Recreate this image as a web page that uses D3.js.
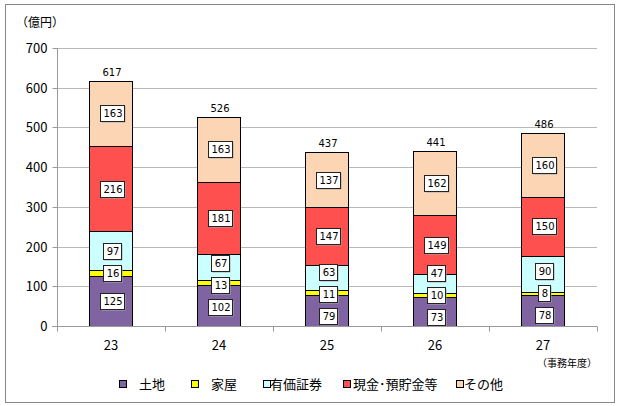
<!DOCTYPE html>
<html><head><meta charset="utf-8">
<script src="https://cdn.jsdelivr.net/npm/d3@7"></script>
<style>body{margin:0;background:#fff}svg{display:block}</style>
</head><body><svg id="c" width="618" height="406"></svg>
<script>
const categories = ["23","24","25","26","27"];
const seriesNames = ["土地","家屋","有価証券","現金･預貯金等","その他"];
const land = [125,102,79,73,78];
const house = [16,13,11,10,8];
const securities = [97,67,63,47,90];
const cash = [216,181,147,149,150];
const other = [163,163,137,162,160];
const totals = [617,526,437,441,486];
const yTicks = [0,100,200,300,400,500,600,700];
const colors = ["#8064A2","#FFFF00","#CCFFFF","#FF5050","#FCD5B5"];

const svg = d3.select("#c");
const font = "'Noto Sans CJK JP',sans-serif";
const numFont = "'DejaVu Sans',sans-serif";
svg.append("rect").attr("x",5.5).attr("y",4.5).attr("width",609).attr("height",398)
  .attr("fill","#fff").attr("stroke","#888").attr("stroke-width",1);

const x = d3.scaleBand().domain(categories).range([57,597]).paddingInner(0.6).paddingOuter(0.3);
const y = d3.scaleLinear().domain([0,700]).range([326,48]);

// grid
svg.append("g").selectAll("line").data(yTicks.slice(1)).join("line")
  .attr("x1",57).attr("x2",597).attr("y1",d=>Math.round(y(d))+0.5).attr("y2",d=>Math.round(y(d))+0.5)
  .attr("stroke","#b8b8b8");

const table = categories.map((c,i)=>({cat:c,s0:land[i],s1:house[i],s2:securities[i],s3:cash[i],s4:other[i]}));
const stack = d3.stack().keys(["s0","s1","s2","s3","s4"])(table);

const g = svg.append("g");
stack.forEach((layer,k)=>{
  g.append("g").selectAll("rect").data(layer).join("rect")
   .attr("x",d=>Math.round(x(d.data.cat))+0.5)
   .attr("width",Math.round(x.bandwidth()))
   .attr("y",d=>Math.round(y(d[1]))+0.5)
   .attr("height",d=>Math.round(y(d[0]))-Math.round(y(d[1])))
   .attr("fill",colors[k]).attr("stroke","#000").attr("stroke-width",1);
});

// axes
const yAxis = d3.axisLeft(y).tickValues(yTicks).tickSize(5).tickFormat(d3.format("d"));
const ya = svg.append("g").attr("transform","translate(57.5,0)").call(yAxis);
ya.select(".domain").attr("stroke","#999").attr("d","M0,48V326");
ya.selectAll(".tick line").attr("stroke","#999");
ya.selectAll(".tick").attr("transform",d=>`translate(0,${Math.round(y(d))+0.5})`);
ya.selectAll("text").attr("font-family",font).attr("font-size",13).attr("fill","#000").attr("x",-10);

const xa = svg.append("g").attr("transform","translate(0,326.5)");
xa.append("line").attr("x1",52).attr("x2",597).attr("stroke","#999");
const bounds = categories.map((c,i)=>x(c)+x.bandwidth()/2+x.step()/2);
xa.selectAll(".tk").data([57].concat(bounds)).join("line").attr("class","tk")
  .attr("x1",d=>Math.round(d)+0.5).attr("x2",d=>Math.round(d)+0.5).attr("y1",0).attr("y2",5).attr("stroke","#999");
xa.selectAll("text").data(categories).join("text")
  .attr("x",d=>x(d)+x.bandwidth()/2).attr("y",23).attr("text-anchor","middle")
  .attr("font-family",font).attr("font-size",13).text(d=>d);

// totals
svg.append("g").selectAll("text").data(categories).join("text")
  .attr("x",d=>x(d)+x.bandwidth()/2+1).attr("y",(d,i)=>y(totals[i])-5)
  .attr("text-anchor","middle").attr("font-family",numFont).attr("font-size",10).text((d,i)=>totals[i]);

// value labels with simple collision relaxation
const lg = svg.append("g");
categories.forEach((c,i)=>{
  const labs = stack.map(layer=>{
    const d = layer[i];
    return {v:d[1]-d[0], y:(y(d[0])+y(d[1]))/2};
  });
  const minSep = 22;
  for(let it=0; it<100; it++){
    for(let k=0;k<labs.length-1;k++){
      const dif = labs[k].y - labs[k+1].y;
      if(dif < minSep){
        const p = (minSep-dif)/2;
        labs[k].y += p; labs[k+1].y -= p;
      }
    }
    labs[0].y = Math.min(labs[0].y, y(0)-9);
  }
  const cx = x(c)+x.bandwidth()/2+1;
  labs.forEach(l=>{
    const s = String(l.v);
    const w = 6*s.length+6;
    const h = 16;
    const bx = Math.round(cx-w/2), by = Math.round(l.y-h/2);
    lg.append("rect").attr("x",bx+1.5).attr("y",by+1.5).attr("width",w).attr("height",h).attr("fill","#aaa");
    lg.append("rect").attr("x",bx+0.5).attr("y",by+0.5).attr("width",w).attr("height",h)
      .attr("fill","#fff").attr("stroke","#222");
    lg.append("text").attr("x",bx+w/2+1).attr("y",by+12).attr("text-anchor","middle")
      .attr("font-family",numFont).attr("font-size",10).text(s);
  });
});

svg.append("text").attr("x",16).attr("y",27).attr("font-family",font).attr("font-size",12).text("（億円）");
svg.append("text").attr("x",537).attr("y",367).attr("font-family",font).attr("font-size",10).text("（事務年度）");

// legend
const legX = [119,191,263,343,456];
const legTX = [139,211,270,353,464];
const leg = svg.append("g");
seriesNames.forEach((n,i)=>{
  leg.append("rect").attr("x",legX[i]+0.5).attr("y",380.5).attr("width",7).attr("height",7).attr("fill",colors[i]).attr("stroke","#000");
  leg.append("text").attr("x",legTX[i]).attr("y",389).attr("font-family",font).attr("font-size",13).text(n);
});
</script></body></html>
